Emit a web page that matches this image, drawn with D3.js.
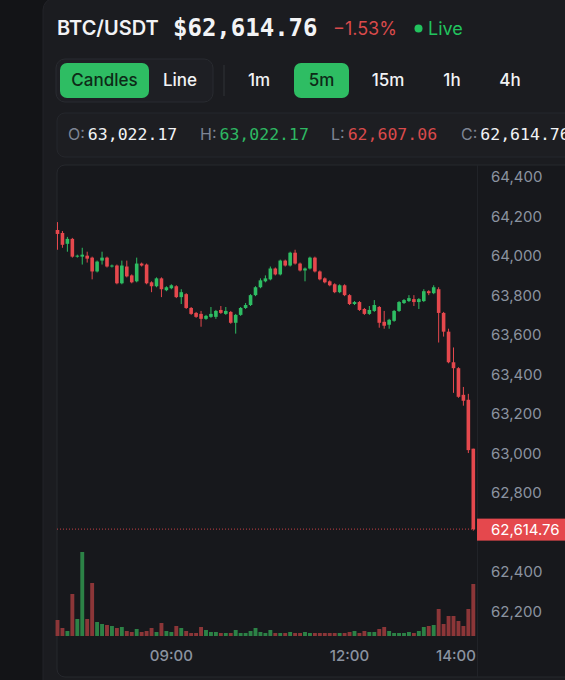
<!DOCTYPE html>
<html><head><meta charset="utf-8">
<script src="https://cdn.jsdelivr.net/npm/d3@7"></script>
<style>
html,body{margin:0;padding:0;background:#131417;}
svg{display:block;}
</style></head>
<body>
<svg id="chart" width="565" height="680"></svg>
<script>
// ---------- DATA ----------
const startTime = "07:05";
const opens  = [64130,64115,64060,64085,63995,63995,64000,63990,63920,63975,63990,63945,63950,63860,63945,63900,63870,63960,63955,63865,63845,63885,63825,63835,63845,63790,63805,63735,63710,63705,63680,63690,63690,63725,63705,63715,63660,63700,63735,63750,63800,63840,63870,63880,63935,63905,63975,63950,64015,63960,63925,63935,63990,63920,63885,63870,63855,63815,63850,63800,63755,63765,63730,63705,63720,63740,63665,63650,63670,63720,63760,63770,63780,63765,63770,63820,63810,63830,63710,63615,63460,63430,63295,63270,63022.17];
const highs  = [64170,64125,64095,64090,64005,64040,64020,63995,63975,64020,63995,63955,63955,63975,63975,63905,63990,63965,63960,63870,63890,63890,63845,63855,63850,63830,63810,63740,63715,63720,63700,63740,63725,63745,63740,63720,63705,63740,63760,63805,63845,63885,63900,63945,63940,63980,63980,64020,64030,63965,63940,63995,63995,63925,63890,63875,63860,63855,63855,63805,63770,63770,63735,63745,63775,63745,63720,63680,63725,63770,63780,63800,63800,63785,63830,63825,63850,63840,63715,63630,63535,63435,63335,63300,63022.17];
const lows   = [64030,64040,64020,63990,63990,63955,63965,63880,63915,63955,63940,63940,63855,63855,63890,63860,63865,63945,63855,63815,63840,63790,63820,63830,63785,63755,63730,63700,63685,63640,63675,63685,63680,63705,63700,63655,63605,63695,63730,63745,63795,63835,63865,63875,63900,63900,63945,63945,63955,63920,63870,63930,63915,63875,63860,63845,63810,63810,63795,63750,63750,63720,63700,63700,63715,63635,63630,63630,63665,63715,63755,63765,63745,63730,63765,63800,63805,63560,63590,63455,63305,63280,63240,63000,62607.06];
const closes = [64110,64055,64085,63995,64000,64005,63985,63920,63970,63990,63945,63950,63860,63950,63895,63865,63960,63950,63860,63845,63885,63830,63840,63850,63790,63815,63735,63705,63690,63680,63695,63705,63720,63710,63720,63660,63700,63735,63750,63800,63840,63875,63885,63935,63905,63975,63950,64015,63960,63925,63935,63990,63920,63880,63865,63850,63815,63850,63800,63755,63765,63725,63705,63725,63750,63660,63645,63675,63720,63765,63775,63785,63765,63780,63820,63810,63840,63710,63615,63460,63430,63285,63265,63015,62614.76];
const volumes = [24,12,7.5,63,25.5,126,25.5,79.5,21,18,16.5,15,12,13.5,7.5,6,10.5,6,7.5,12,6,19.5,7.5,6,15,12,7.5,4.5,4.5,13.5,9,6,6,4.5,4.5,4.5,9,4.5,4.5,7.5,12,6,4.5,9,4.5,4.5,4.5,6,4.5,4.5,6,4.5,4.5,4.5,4.5,4.5,4.5,4.5,4.5,6,7.5,4.5,7.5,6,6,10.5,13.5,7.5,4.5,4.5,4.5,6,4.5,7.5,13.5,15,16.5,40.5,18,30,30,22.5,15,40.5,78];
const priceTicks = [64400,64200,64000,63800,63600,63400,63200,63000,62800,62600,62400,62200];
const timeTicks = ["09:00","12:00","14:00"];
const symbol = "BTC/USDT";
const lastPrice = 62614.76;
const changePct = -1.53;
const chartTypes = ["Candles","Line"];
const intervals = ["1m","5m","15m","1h","4h"];
const ohlcLabels = ["O:","H:","L:","C:"];

// ---------- SETUP ----------
const svg = d3.select("#chart");
const W = 565, H = 680;
const C = {bg:"#131417", card:"#1b1c20", panel:"#17181c", border:"#26282d",
  green:"#2ebd63", red:"#e5484d", vgreen:"#2c8246", vred:"#8c3638",
  text:"#f2f3f5", muted:"#8b93a0"};
const SANS = "Inter, 'Noto Sans', sans-serif";
const MONO = "'DejaVu Sans Mono', 'Liberation Mono', monospace";

const parse = d3.timeParse("%H:%M");
const fmtTime = d3.timeFormat("%H:%M");
const t0 = parse(startTime);
const data = opens.map((o,i)=>({t:new Date(t0.getTime()+i*5*60000), o, h:highs[i], l:lows[i], c:closes[i], v:volumes[i]}));

// background + card
svg.append("rect").attr("width",W).attr("height",H).attr("fill",C.bg);
svg.append("rect").attr("x",43).attr("y",-2).attr("width",W).attr("height",H+20).attr("rx",12)
  .attr("fill",C.card).attr("stroke","#222328");

// ---------- HEADER ----------
const hdr = svg.append("g");
hdr.append("text").attr("x",57).attr("y",35).text(symbol)
  .attr("font-family",SANS).attr("font-size",20).attr("font-weight",600).attr("fill",C.text);
hdr.append("text").attr("x",173).attr("y",36).text("$"+d3.format(",.2f")(lastPrice))
  .attr("font-family",MONO).attr("font-size",24).attr("font-weight",700).attr("fill",C.text);
hdr.append("text").attr("x",333).attr("y",35).text(d3.format(".2f")(changePct)+"%")
  .attr("font-family",SANS).attr("font-size",18).attr("fill","#d94a4b");
hdr.append("circle").attr("cx",418.5).attr("cy",28.5).attr("r",4).attr("fill","#22c35e");
hdr.append("text").attr("x",428).attr("y",35).text("Live")
  .attr("font-family",SANS).attr("font-size",18).attr("fill","#22c35e");

// ---------- TOOLBAR ----------
const tb = svg.append("g");
tb.append("rect").attr("x",56).attr("y",59).attr("width",157).attr("height",43).attr("rx",9)
  .attr("fill","#1e1f24").attr("stroke","#292b30");
const segX = [[60,89],[150,60]];
chartTypes.forEach((s,i)=>{
  if(i===0) tb.append("rect").attr("x",segX[i][0]).attr("y",63).attr("width",segX[i][1]).attr("height",35).attr("rx",7).attr("fill",C.green);
  tb.append("text").attr("x",segX[i][0]+segX[i][1]/2).attr("y",86).attr("text-anchor","middle").text(s)
    .attr("font-family",SANS).attr("font-size",17).attr("font-weight",500).attr("fill",i===0?"#0d2a17":C.text);
});
tb.append("line").attr("x1",224).attr("x2",224).attr("y1",65).attr("y2",96).attr("stroke","#303237");
const ivX = [259,321.5,388,452,510];
intervals.forEach((s,i)=>{
  if(s==="5m") tb.append("rect").attr("x",294).attr("y",63).attr("width",55).attr("height",35).attr("rx",7).attr("fill",C.green);
  tb.append("text").attr("x",ivX[i]).attr("y",86).attr("text-anchor","middle").text(s)
    .attr("font-family",SANS).attr("font-size",17).attr("font-weight",500).attr("fill",s==="5m"?"#0d2a17":C.text);
});

// ---------- OHLC ROW ----------
const last = data[data.length-1];
const og = svg.append("g");
og.append("rect").attr("x",57).attr("y",113).attr("width",530).attr("height",44).attr("rx",8)
  .attr("fill","#1d1e22").attr("stroke","#25272c");
const ohlcVals = [last.o,last.h,last.l,last.c];
const ohlcCols = [C.text,"#2eb862","#d94a4b",C.text];
const ohlcX = [68,200,331,461];
ohlcLabels.forEach((lab,i)=>{
  const t = og.append("text").attr("x",ohlcX[i]).attr("y",140);
  t.append("tspan").text(lab).attr("font-family",SANS).attr("font-size",16).attr("fill","#7d8594");
  t.append("tspan").attr("dx",3).text(d3.format(",.2f")(ohlcVals[i])).attr("font-family",MONO).attr("font-size",16.5).attr("fill",ohlcCols[i]);
});

// ---------- CHART PANEL ----------
const px0 = 57, px1 = 477, pTop = 165, pBot = 677;
svg.append("rect").attr("x",px0).attr("y",pTop).attr("width",540).attr("height",pBot-pTop).attr("rx",8)
  .attr("fill",C.panel).attr("stroke",C.border);
svg.append("line").attr("x1",px1+0.5).attr("x2",px1+0.5).attr("y1",pTop).attr("y2",pBot).attr("stroke","#212328");

const x = d3.scaleTime().domain([data[0].t, last.t]).range([57.5, 473.3]);
const y = d3.scaleLinear().domain([62200,64400]).range([611,176.7]);
const vMax = d3.max(volumes);
const yv = d3.scaleLinear().domain([0,vMax]).range([636,552]);
const step = x(data[1].t)-x(data[0].t);
const bodyW = 3.6, volW = 3.9;

// volume
svg.append("g").selectAll("rect").data(data).join("rect")
  .attr("x",d=>x(d.t)-volW/2).attr("width",volW)
  .attr("y",d=>yv(d.v)).attr("height",d=>yv(0)-yv(d.v))
  .attr("fill",d=>d.c>=d.o?C.vgreen:C.vred);

// candles
const cg = svg.append("g").selectAll("g").data(data).join("g");
cg.append("line").attr("x1",d=>x(d.t)).attr("x2",d=>x(d.t))
  .attr("y1",d=>y(d.h)).attr("y2",d=>y(d.l))
  .attr("stroke",d=>d.c>=d.o?C.green:C.red).attr("stroke-width",1);
cg.append("rect").attr("x",d=>x(d.t)-bodyW/2).attr("width",bodyW)
  .attr("y",d=>y(Math.max(d.o,d.c)))
  .attr("height",d=>Math.max(1,Math.abs(y(d.o)-y(d.c))))
  .attr("fill",d=>d.c>=d.o?C.green:C.red);

// last price line
const yl = y(lastPrice);
svg.append("line").attr("x1",px0).attr("x2",px1).attr("y1",yl).attr("y2",yl)
  .attr("stroke",C.red).attr("stroke-dasharray","1,2").attr("opacity",0.85);

// price axis
svg.append("g").selectAll("text").data(priceTicks.filter(v=>Math.abs(y(v)-yl)>14)).join("text")
  .attr("x",491).attr("y",d=>y(d)+5.5).text(d=>d3.format(",")(d))
  .attr("font-family",SANS).attr("font-size",15).attr("fill",C.muted);
svg.append("rect").attr("x",px1).attr("y",yl-10.5).attr("width",90).attr("height",22).attr("fill",C.red);
svg.append("text").attr("x",491).attr("y",yl+5.5).text(d3.format(",.2f")(lastPrice))
  .attr("font-family",SANS).attr("font-size",15).attr("fill","#fff");

// time axis
svg.append("g").selectAll("text").data(timeTicks).join("text")
  .attr("x",d=>{const cx = x(parse(d)); const hw = 21; return Math.min(px1-hw, Math.max(px0+hw, cx));})
  .attr("y",661).attr("text-anchor","middle").text(d=>d)
  .attr("font-family",SANS).attr("font-size",15).attr("font-weight",500).attr("fill",C.muted);
</script>
</body></html>
